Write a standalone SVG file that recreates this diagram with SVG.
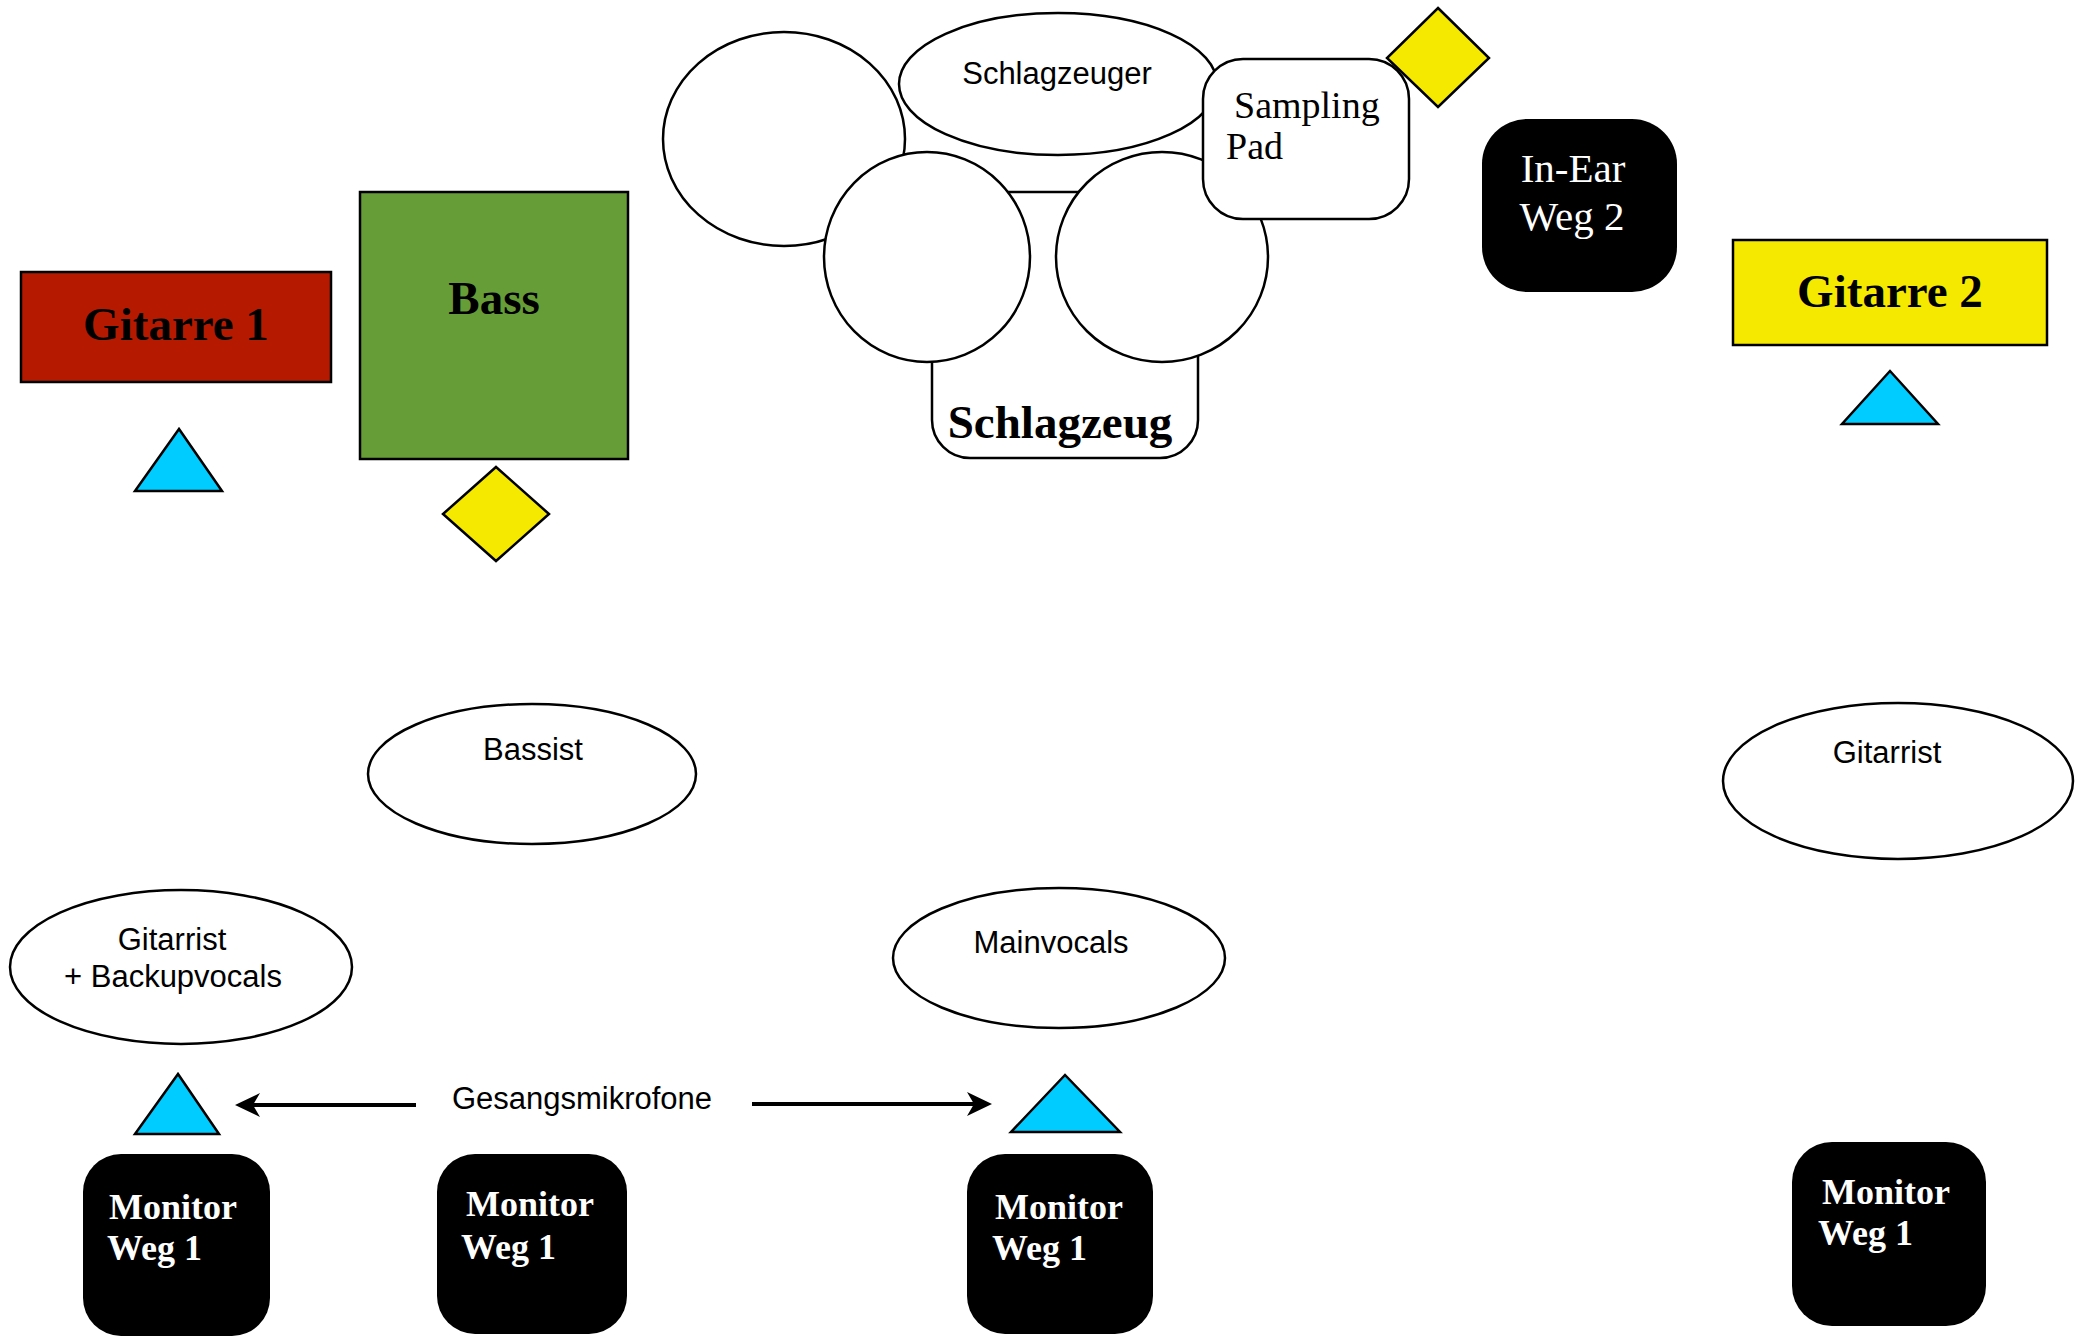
<svg xmlns="http://www.w3.org/2000/svg" width="2089" height="1344" viewBox="0 0 2089 1344">
<defs>
<style>
.sh{stroke:#000;stroke-width:2.5}
.w{fill:#fff}
.blk{fill:#000}
.tb{font-family:"Liberation Serif","Times New Roman",serif;font-weight:bold;font-size:47px;fill:#000}
.ts{font-family:"Liberation Serif","Times New Roman",serif;font-size:38px}
.ti{font-family:"Liberation Serif","Times New Roman",serif;font-size:41px}
.mon{font-family:"Liberation Serif","Times New Roman",serif;font-weight:bold;font-size:36px;fill:#fff}
.th{font-family:"Liberation Sans",Arial,Helvetica,sans-serif;font-size:31px;fill:#000}
.mic{fill:#00CCFF;stroke:#000;stroke-width:2.5}
.amp{fill:#F5E900;stroke:#000;stroke-width:2.5}
.conn{stroke:#000;stroke-width:4;fill:none}
</style>
<marker id="arr" viewBox="0 -12 25 24" markerWidth="25" markerHeight="24" refX="7" refY="0" orient="auto" markerUnits="userSpaceOnUse">
<path d="M0,-12 L25,0 L0,12 L7,0 Z" fill="#000"/>
</marker>
</defs>
<rect width="2089" height="1344" fill="#fff"/>

<g id="gitarre1">
<rect x="21" y="272" width="310" height="110" fill="#B51A00" class="sh"/>
<text x="176" y="340" text-anchor="middle" class="tb">Gitarre 1</text>
</g>
<g id="bass">
<rect x="360" y="192" width="268" height="267" fill="#679D37" class="sh"/>
<text x="494" y="314" text-anchor="middle" class="tb">Bass</text>
</g>
<g id="mic-gitarre1"><polygon points="179,429 135,491 222,491" class="mic"/></g>
<g id="amp-bass"><polygon points="496,467 549,514 496,561 443,514" class="amp"/></g>

<g id="schlagzeug">
<rect x="932" y="192" width="266" height="266" rx="38" ry="38" class="sh w"/>
<text x="1060" y="438" text-anchor="middle" class="tb">Schlagzeug</text>
</g>
<g id="drum-left-big"><ellipse cx="784" cy="139" rx="121" ry="107" class="sh w"/></g>
<g id="schlagzeuger">
<ellipse cx="1058" cy="84" rx="159" ry="71" class="sh w"/>
<text x="1057" y="84" text-anchor="middle" class="th">Schlagzeuger</text>
</g>
<g id="drum-left"><ellipse cx="927" cy="257" rx="103" ry="105" class="sh w"/></g>
<g id="drum-right"><ellipse cx="1162" cy="257" rx="106" ry="105" class="sh w"/></g>
<g id="sampling-pad">
<rect x="1203" y="59" width="206" height="160" rx="40" ry="40" class="sh w"/>
<text class="ts" fill="#000"><tspan x="1234" y="118">Sampling</tspan><tspan x="1226" y="159">Pad</tspan></text>
</g>
<g id="amp-top"><polygon points="1438,8 1489,58 1438,107 1387,58" class="amp"/></g>

<g id="in-ear">
<rect x="1482" y="119" width="195" height="173" rx="45" ry="45" class="blk"/>
<text class="ti" fill="#fff" text-anchor="middle"><tspan x="1573" y="182">In-Ear</tspan><tspan x="1572" y="230">Weg 2</tspan></text>
</g>
<g id="gitarre2">
<rect x="1733" y="240" width="314" height="105" fill="#F5E900" class="sh"/>
<text x="1890" y="307" text-anchor="middle" class="tb">Gitarre 2</text>
</g>
<g id="mic-gitarre2"><polygon points="1890,371 1842,424 1938,424" class="mic"/></g>

<g id="bassist">
<ellipse cx="532" cy="774" rx="164" ry="70" class="sh w"/>
<text x="533" y="760" text-anchor="middle" class="th">Bassist</text>
</g>
<g id="gitarrist-right">
<ellipse cx="1898" cy="781" rx="175" ry="78" class="sh w"/>
<text x="1887" y="763" text-anchor="middle" class="th">Gitarrist</text>
</g>
<g id="gitarrist-backup">
<ellipse cx="181" cy="967" rx="171" ry="77" class="sh w"/>
<text class="th" text-anchor="middle"><tspan x="172" y="950">Gitarrist</tspan><tspan x="173" y="987">+ Backupvocals</tspan></text>
</g>
<g id="mainvocals">
<ellipse cx="1059" cy="958" rx="166" ry="70" class="sh w"/>
<text x="1051" y="953" text-anchor="middle" class="th">Mainvocals</text>
</g>

<g id="mic-vocal-left"><polygon points="178,1074 135,1134 219,1134" class="mic"/></g>
<g id="mic-vocal-main"><polygon points="1065,1075 1011,1132 1120,1132" class="mic"/></g>

<g id="label-gesangsmikrofone">
<text x="582" y="1109" text-anchor="middle" class="th">Gesangsmikrofone</text>
</g>

<g id="monitor1">
<rect x="83" y="1154" width="187" height="182" rx="38" ry="38" class="blk"/>
<text class="mon"><tspan x="109" y="1219">Monitor</tspan><tspan x="107" y="1260">Weg 1</tspan></text>
</g>
<g id="monitor2">
<rect x="437" y="1154" width="190" height="180" rx="38" ry="38" class="blk"/>
<text class="mon"><tspan x="466" y="1216">Monitor</tspan><tspan x="461" y="1259">Weg 1</tspan></text>
</g>
<g id="monitor3">
<rect x="967" y="1154" width="186" height="180" rx="38" ry="38" class="blk"/>
<text class="mon"><tspan x="995" y="1219">Monitor</tspan><tspan x="992" y="1260">Weg 1</tspan></text>
</g>
<g id="monitor4">
<rect x="1792" y="1142" width="194" height="184" rx="40" ry="40" class="blk"/>
<text class="mon"><tspan x="1822" y="1204">Monitor</tspan><tspan x="1818" y="1245">Weg 1</tspan></text>
</g>

<g id="connectors">
<line x1="416" y1="1105" x2="253" y2="1105" class="conn" marker-end="url(#arr)"/>
<line x1="752" y1="1104" x2="974" y2="1104" class="conn" marker-end="url(#arr)"/>
</g>
</svg>
